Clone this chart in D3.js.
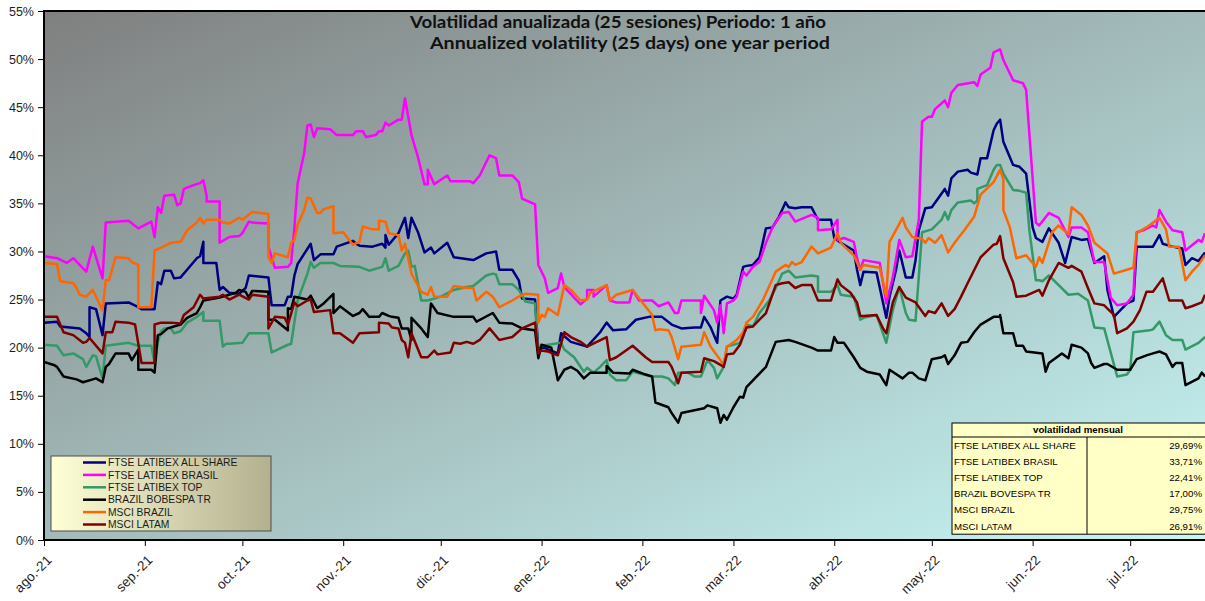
<!DOCTYPE html>
<html>
<head>
<meta charset="utf-8">
<script src="https://cdn.jsdelivr.net/npm/d3@7"></script>
<style>
  body { margin: 0; background: #fff; }
  svg { display: block; font-family: Lato, "Liberation Sans", sans-serif; }
  .axis path { display: none; }
  .axis line { stroke: #000; }
  .axis text { font-size: 12.5px; fill: #1e1e1e; }
  .x-axis text { font-size: 13.5px; }
  .legend text { font-family: "Liberation Sans", Arial, sans-serif; font-size: 10.3px; fill: #1a1a1a; }
  .vol-table text { font-family: "Liberation Sans", Arial, sans-serif; font-size: 9.7px; fill: #000; }
</style>
</head>
<body>
<svg id="chart"></svg>
<script>
// Daily data is stored as [days since 1 Aug 2021, volatility %]
const startDate = new Date(Date.UTC(2021, 7, 1));
const endDay = 357;

const allShare = [[0,22.6],[4,22.7],[5,22.2],[11,22.0],[13,21.5],[14,21.1],[14,24.2],[16,24.0],[18,21.3],[19,24.6],[26,24.7],[29,24.2],[30,24.0],[34,24.0],[35,26.8],[36,26.6],[37,28.0],[39,28.0],[40,27.2],[42,27.3],[44,28.1],[47,29.3],[48,29.5],[49,31.0],[49,28.8],[53,28.8],[54,26.0],[55,26.3],[57,25.7],[60,25.6],[62,26.2],[63,27.5],[69,27.3],[70,24.4],[74,24.4],[75,25.3],[76,25.3],[77,27.5],[78,28.7],[82,30.8],[83,29.1],[85,29.7],[89,29.7],[90,30.5],[95,31.1],[96,30.8],[97,30.6],[101,30.5],[104,30.8],[105,30.4],[105,31.7],[106,30.7],[109,31.9],[111,33.5],[112,31.4],[113,33.5],[115,32.0],[117,29.9],[119,30.4],[120,29.8],[124,30.9],[126,29.4],[132,29.1],[136,29.8],[139,30.0],[140,28.1],[144,28.1],[146,27.0],[147,25.1],[151,25.0],[152,19.7],[153,20.1],[158,19.4],[159,21.5],[162,20.6],[167,20.1],[171,21.6],[173,22.6],[175,21.8],[179,21.9],[182,22.9],[186,23.2],[190,23.2],[193,22.4],[196,22.0],[200,22.1],[202,22.1],[203,23.2],[205,22.1],[207,20.5],[208,24.9],[210,25.3],[212,25.1],[213,25.5],[215,28.4],[216,28.5],[218,28.6],[220,29.4],[222,32.4],[224,32.5],[226,33.6],[228,35.1],[229,34.6],[231,34.5],[233,34.6],[236,34.6],[238,33.3],[242,33.3],[243,31.4],[245,30.9],[249,30.1],[250,28.1],[251,26.5],[252,27.9],[256,27.8],[259,23.1],[260,25.3],[262,28.1],[263,30.1],[265,27.3],[267,27.3],[268,29.1],[269,32.2],[271,34.5],[273,34.6],[277,36.5],[278,35.8],[279,37.6],[281,38.3],[284,38.5],[285,38.2],[287,38.0],[288,39.7],[290,39.7],[292,42.6],[293,43.3],[294,43.7],[295,41.4],[298,39.0],[300,38.8],[302,38.1],[304,32.5],[305,31.4],[307,31.0],[309,32.4],[312,30.9],[314,28.8],[316,31.5],[319,31.2],[321,31.3],[323,28.8],[326,29.5],[327,26.0],[329,23.2],[333,24.6],[335,24.9],[336,30.5],[341,30.5],[343,31.7],[344,30.8],[347,30.5],[350,30.3],[351,28.6],[353,29.3],[355,29.0],[357,29.9]];

const latibexBrasil = [[0,29.5],[4,29.3],[7,28.8],[9,29.3],[13,27.9],[15,30.5],[18,27.2],[19,33.0],[26,33.2],[29,32.4],[33,33.1],[34,31.5],[35,34.6],[36,34.0],[37,35.8],[40,35.9],[41,34.8],[42,35.0],[43,36.5],[46,36.9],[48,37.1],[49,37.4],[50,35.8],[50,35.2],[54,35.2],[54,30.9],[57,31.5],[60,31.6],[61,31.9],[63,33.1],[64,33.0],[69,32.9],[69,30.5],[71,28.3],[75,28.4],[76,28.8],[77,32.5],[78,37.1],[80,40.2],[81,43.1],[82,43.2],[83,41.9],[84,42.8],[88,42.7],[90,42.1],[95,42.1],[96,42.5],[98,42.5],[99,41.9],[102,42.1],[103,42.5],[104,42.5],[105,43.4],[106,43.1],[109,43.7],[110,43.7],[111,45.9],[113,42.1],[115,39.8],[117,37.0],[118,37.0],[118,38.5],[120,37.0],[124,37.9],[125,37.3],[131,37.3],[132,37.1],[134,37.9],[137,40.0],[139,39.7],[140,37.9],[144,37.9],[146,37.2],[147,35.5],[151,34.9],[152,28.6],[154,27.2],[155,25.7],[158,26.2],[159,27.7],[160,26.3],[163,25.2],[165,24.5],[167,25.1],[167,26.0],[169,26.0],[169,25.3],[173,26.5],[174,24.9],[176,24.7],[180,24.7],[181,26.0],[183,24.9],[187,24.9],[189,24.3],[192,24.7],[194,23.6],[195,23.6],[196,24.9],[202,24.9],[202,23.6],[203,25.4],[206,23.9],[207,22.6],[208,24.4],[209,21.5],[210,24.6],[212,24.9],[213,25.3],[215,27.9],[216,27.5],[218,28.4],[220,28.9],[222,30.9],[224,32.5],[227,34.0],[229,34.1],[231,33.1],[236,33.8],[238,33.5],[238,32.2],[242,32.3],[244,33.3],[244,31.2],[246,31.4],[249,31.0],[250,29.3],[251,28.1],[252,29.1],[257,28.8],[259,24.6],[261,27.3],[263,31.2],[265,29.4],[267,29.5],[269,33.3],[270,43.5],[272,44.0],[273,44.0],[274,44.8],[277,45.7],[278,45.0],[279,46.5],[281,47.3],[286,47.6],[287,47.2],[288,48.4],[291,49.1],[292,50.7],[294,51.0],[295,49.9],[298,47.8],[301,47.5],[302,46.8],[305,33.0],[306,32.7],[309,34.0],[312,33.5],[315,31.5],[316,32.5],[319,32.5],[321,32.0],[323,28.9],[326,28.9],[328,25.2],[330,24.4],[333,24.6],[335,25.5],[336,32.0],[338,32.2],[341,32.7],[342,32.5],[343,34.3],[345,33.1],[347,32.2],[350,32.0],[351,30.1],[355,31.2],[356,31.0],[357,31.9]];

const latibexTop = [[0,20.3],[4,20.2],[6,19.2],[9,19.4],[12,18.8],[13,18.0],[15,19.2],[16,19.1],[18,16.8],[19,20.2],[26,20.5],[29,20.2],[33,20.2],[34,18.4],[35,20.6],[36,21.7],[37,22.0],[39,22.0],[40,21.5],[42,21.7],[44,22.6],[47,23.2],[49,23.7],[49,22.8],[54,22.8],[55,20.1],[56,20.4],[57,20.4],[61,20.5],[63,21.5],[69,21.5],[70,19.5],[75,20.3],[76,20.4],[78,24.9],[81,27.7],[82,28.9],[83,28.3],[85,28.8],[89,28.8],[91,28.5],[97,28.4],[100,28.0],[104,28.4],[105,29.3],[106,28.0],[109,28.5],[111,29.8],[112,30.1],[113,28.4],[114,28.5],[116,24.9],[118,24.9],[122,25.3],[126,26.0],[130,26.3],[132,26.4],[136,27.5],[138,27.7],[139,27.6],[140,26.6],[144,26.6],[146,26.0],[148,24.8],[151,24.6],[152,19.2],[153,20.2],[159,20.5],[160,19.8],[163,19.0],[166,17.5],[167,17.9],[169,17.4],[171,18.0],[173,18.7],[174,17.2],[176,16.6],[179,16.6],[181,17.5],[187,17.0],[190,17.0],[192,16.8],[194,16.1],[195,17.4],[198,17.4],[200,17.0],[202,17.0],[204,18.7],[206,17.9],[207,16.8],[209,18.0],[210,20.1],[214,20.5],[216,22.4],[218,22.2],[220,23.6],[223,24.9],[225,26.2],[227,27.7],[229,28.0],[231,27.3],[236,27.5],[238,27.4],[238,25.8],[242,25.8],[244,26.5],[245,25.5],[249,25.3],[251,22.9],[252,23.1],[256,23.4],[259,20.5],[261,23.9],[263,26.3],[265,23.6],[266,22.9],[268,22.8],[270,32.0],[273,32.3],[276,33.3],[277,34.1],[278,33.3],[279,34.3],[281,35.1],[285,35.3],[286,35.0],[287,35.3],[287,36.5],[290,36.9],[292,38.5],[293,39.0],[294,39.0],[295,38.1],[298,36.4],[300,36.3],[302,36.1],[303,32.2],[305,27.0],[306,27.0],[307,26.9],[309,27.5],[312,26.5],[315,25.5],[318,25.6],[321,24.9],[323,22.1],[326,22.0],[330,17.0],[333,17.2],[334,17.7],[335,21.6],[340,21.8],[341,21.9],[343,22.7],[345,21.3],[347,20.8],[350,20.8],[351,19.8],[355,20.5],[357,21.1]];

const bovespa = [[0,18.5],[3,18.2],[4,18.0],[6,17.0],[10,16.7],[12,16.4],[15,16.7],[16,16.8],[18,16.4],[19,18.0],[20,18.3],[22,19.4],[26,19.4],[27,18.7],[29,19.8],[29,17.7],[33,17.7],[34,17.4],[35,21.3],[36,21.4],[38,22.0],[42,22.4],[44,23.1],[47,23.6],[48,24.2],[49,24.9],[54,25.2],[55,25.3],[59,25.7],[60,26.0],[62,25.8],[63,25.2],[64,25.9],[69,25.8],[69,22.9],[71,22.9],[75,21.8],[75,24.1],[76,24.0],[77,25.3],[81,25.0],[82,25.4],[84,24.1],[86,24.6],[89,25.6],[89,23.6],[91,24.3],[95,23.3],[97,23.6],[98,24.0],[100,23.2],[103,23.2],[104,23.6],[106,23.3],[107,23.2],[109,23.1],[110,22.0],[112,22.0],[113,20.8],[113,23.1],[116,22.0],[118,21.1],[119,24.6],[121,23.6],[126,23.2],[132,23.2],[133,22.7],[138,23.6],[140,22.6],[144,22.5],[147,22.0],[151,21.8],[152,18.9],[153,20.3],[156,20.0],[158,16.6],[160,17.7],[162,18.0],[164,17.6],[166,16.8],[168,17.4],[173,17.4],[173,18.1],[175,17.4],[180,17.3],[181,17.7],[185,17.2],[187,17.0],[188,14.3],[192,13.8],[193,13.2],[195,12.2],[196,13.2],[200,13.5],[203,13.7],[204,14.0],[207,13.7],[208,12.2],[209,13.0],[210,12.5],[212,13.8],[214,14.9],[215,14.8],[216,15.9],[218,16.6],[222,18.0],[225,20.6],[229,20.8],[231,20.6],[236,20.0],[238,19.7],[242,19.7],[243,21.1],[244,20.5],[246,20.5],[249,19.0],[251,17.9],[253,17.5],[257,17.2],[259,16.1],[260,17.7],[264,16.8],[266,17.4],[267,17.4],[269,16.8],[271,16.6],[273,18.8],[276,19.0],[277,19.2],[278,18.3],[280,19.2],[282,20.5],[284,20.6],[286,21.6],[288,22.4],[292,23.2],[294,23.2],[294,23.4],[295,21.5],[298,21.5],[299,20.2],[301,20.2],[302,19.6],[307,19.4],[308,17.5],[309,18.4],[313,19.4],[315,18.9],[316,20.3],[319,20.0],[321,19.4],[322,18.4],[323,17.9],[326,18.3],[327,18.3],[330,17.7],[334,17.7],[336,18.8],[339,19.2],[341,19.4],[343,19.6],[345,19.3],[347,18.0],[348,18.4],[350,18.4],[351,16.1],[355,16.8],[356,17.4],[357,17.0]];

const msciBrazil = [[0,28.8],[4,28.7],[5,26.9],[9,26.7],[10,26.2],[11,25.5],[13,25.3],[15,26.0],[18,23.9],[19,27.0],[20,27.0],[22,29.4],[26,29.3],[27,28.9],[29,28.6],[29,24.2],[33,24.2],[34,30.1],[36,30.4],[39,30.9],[42,31.0],[44,32.2],[47,33.0],[48,33.5],[49,32.9],[50,33.3],[54,33.3],[55,33.0],[57,32.9],[60,33.5],[61,33.3],[64,34.1],[69,33.9],[69,29.4],[70,28.8],[71,29.8],[75,29.4],[76,30.9],[77,31.2],[78,32.8],[80,34.3],[81,35.6],[82,35.5],[84,34.0],[85,34.0],[86,34.4],[89,34.7],[89,31.9],[92,32.0],[95,30.7],[97,31.0],[98,32.6],[101,32.3],[103,32.3],[103,33.2],[105,33.1],[106,31.9],[109,31.7],[110,30.1],[111,30.8],[113,27.7],[116,25.8],[118,25.5],[119,26.3],[120,25.3],[124,25.3],[126,26.4],[130,26.2],[132,26.2],[133,24.9],[136,25.8],[138,25.3],[140,24.2],[144,24.9],[146,25.3],[148,25.6],[152,25.5],[152,22.6],[153,23.4],[154,23.2],[155,24.1],[158,23.4],[160,26.5],[162,26.0],[165,24.9],[167,25.0],[168,25.7],[173,26.5],[174,24.9],[176,25.5],[181,26.0],[187,23.4],[188,21.8],[189,21.9],[192,21.8],[193,21.1],[195,18.8],[196,20.1],[202,20.3],[203,21.6],[205,20.1],[208,18.7],[209,18.2],[210,20.1],[213,20.8],[215,21.6],[216,22.6],[218,23.2],[221,24.9],[225,27.9],[228,28.6],[229,28.4],[230,28.9],[231,28.6],[233,28.9],[236,30.5],[238,29.8],[242,30.4],[244,31.9],[245,30.9],[249,29.6],[251,28.1],[252,28.6],[257,28.3],[259,25.3],[260,31.0],[264,33.5],[265,32.5],[267,31.5],[270,31.3],[271,30.9],[272,31.4],[274,30.9],[276,31.7],[278,29.9],[280,30.9],[283,32.2],[286,33.6],[288,35.9],[292,37.2],[294,38.5],[295,37.5],[295,34.3],[297,32.5],[299,29.3],[302,29.6],[305,28.4],[306,29.4],[307,28.8],[310,32.0],[312,32.7],[315,31.8],[316,34.6],[319,33.8],[321,32.7],[323,30.9],[327,29.8],[329,27.7],[333,28.1],[335,28.3],[336,31.9],[339,32.5],[343,33.5],[345,32.3],[346,30.5],[349,30.5],[351,27.0],[353,27.9],[355,28.6],[357,29.6]];

const msciLatam = [[0,23.2],[4,23.2],[6,21.6],[9,21.3],[12,20.5],[13,20.6],[14,21.0],[18,19.4],[19,21.6],[21,21.6],[22,22.7],[26,22.6],[28,22.4],[30,18.4],[34,18.4],[34,22.4],[36,22.6],[39,22.6],[42,22.5],[43,23.4],[46,24.2],[48,25.5],[49,25.1],[54,25.3],[55,25.5],[57,25.0],[60,25.5],[63,25.0],[64,25.5],[69,25.3],[69,22.0],[71,23.2],[74,23.1],[75,22.4],[77,24.7],[78,24.3],[81,24.9],[82,25.0],[83,23.7],[88,23.9],[89,21.5],[91,21.5],[95,20.5],[97,21.5],[103,21.6],[103,22.6],[106,22.5],[107,22.1],[109,22.0],[110,20.8],[111,20.5],[112,19.0],[113,21.5],[116,19.0],[118,19.0],[120,19.7],[121,19.3],[125,19.5],[126,20.5],[128,20.4],[130,20.6],[132,20.4],[134,20.8],[137,22.0],[140,20.8],[144,21.1],[147,22.0],[151,22.6],[152,19.4],[153,19.7],[155,19.6],[158,19.2],[160,21.6],[162,21.1],[165,20.6],[167,20.1],[173,21.1],[174,18.7],[176,19.0],[181,20.2],[185,19.0],[187,18.5],[192,18.5],[193,18.0],[195,16.3],[196,17.4],[202,17.5],[203,18.9],[206,18.6],[208,18.2],[209,18.0],[210,19.3],[212,19.4],[214,20.3],[216,22.1],[218,22.2],[222,23.6],[225,26.5],[227,26.7],[229,26.8],[231,26.2],[233,26.5],[236,26.5],[238,24.9],[242,24.9],[244,27.1],[245,26.5],[248,25.7],[250,24.7],[251,23.3],[252,23.3],[256,23.4],[258,22.0],[259,21.5],[261,24.7],[263,26.3],[265,25.2],[268,24.7],[271,23.3],[272,23.8],[274,23.6],[276,24.6],[278,23.3],[280,24.0],[282,25.3],[284,26.7],[288,29.4],[292,30.7],[293,30.8],[294,31.6],[295,29.3],[298,26.8],[299,25.3],[302,25.4],[306,26.0],[307,25.4],[309,27.0],[312,28.8],[315,28.3],[316,28.5],[319,27.9],[321,26.2],[323,24.6],[326,24.4],[329,23.4],[330,21.5],[333,22.0],[335,22.7],[337,23.9],[339,25.8],[341,25.8],[344,27.2],[346,24.9],[350,24.9],[351,24.1],[353,24.3],[356,24.7],[357,25.5]];

const seriesNames = ['FTSE LATIBEX ALL SHARE', 'FTSE LATIBEX BRASIL', 'FTSE LATIBEX TOP', 'BRAZIL BOBESPA TR', 'MSCI BRAZIL', 'MSCI LATAM'];
const seriesData = [allShare, latibexBrasil, latibexTop, bovespa, msciBrazil, msciLatam];
const seriesColors = ['#000080', '#ff00ff', '#339966', '#000000', '#ff6600', '#800000'];

// table "volatilidad mensual"
const tableNames = ['FTSE LATIBEX ALL SHARE', 'FTSE LATIBEX BRASIL', 'FTSE LATIBEX TOP', 'BRAZIL BOVESPA TR', 'MSCI BRAZIL', 'MSCI LATAM'];
const monthlyVol = [29.69, 33.71, 22.41, 17.00, 29.75, 26.91];

const monthLabels = ['ago.-21', 'sep.-21', 'oct.-21', 'nov.-21', 'dic.-21', 'ene.-22', 'feb.-22', 'mar.-22', 'abr.-22', 'may.-22', 'jun.-22', 'jul.-22'];
const yMax = 0.55;

const config = {
  width: 1205,
  height: 601,
  margin: {top: 11, right: 0, bottom: 61, left: 44}
};

const innerW = config.width - config.margin.left - config.margin.right;
const innerH = config.height - config.margin.top - config.margin.bottom;

const svg = d3.select('#chart')
    .attr('width', config.width)
    .attr('height', config.height);

const defs = svg.append('defs');

// plot area background: grey top-left to pale cyan bottom-right
const bgGrad = defs.append('linearGradient')
    .attr('id', 'plotBg')
    .attr('x1', 0).attr('y1', 0).attr('x2', 1).attr('y2', 1);
bgGrad.append('stop').attr('offset', '0%').attr('stop-color', '#7f7f7f');
bgGrad.append('stop').attr('offset', '100%').attr('stop-color', '#c6f7f6');

const legGrad = defs.append('linearGradient')
    .attr('id', 'legendBg')
    .attr('x1', 0).attr('y1', 0).attr('x2', 1).attr('y2', 0);
legGrad.append('stop').attr('offset', '0%').attr('stop-color', '#ffffd6');
legGrad.append('stop').attr('offset', '100%').attr('stop-color', '#b3b08f');

defs.append('clipPath').attr('id', 'plotClip')
  .append('rect')
    .attr('width', innerW)
    .attr('height', innerH);

const chart = svg.append('g')
    .attr('transform', `translate(${config.margin.left},${config.margin.top})`);

chart.append('rect')
    .attr('width', innerW + 4)
    .attr('height', innerH)
    .attr('fill', 'url(#plotBg)');

// Scales
const xScale = d3.scaleUtc()
    .domain([startDate, d3.utcDay.offset(startDate, endDay)])
    .range([0, innerW]);

const yScale = d3.scaleLinear()
    .domain([0, yMax])
    .range([innerH, 0]);

const monthTicks = d3.utcMonth.range(startDate, d3.utcDay.offset(startDate, endDay));

const xAxis = d3.axisBottom(xScale)
    .tickValues(monthTicks)
    .tickSize(6)
    .tickFormat((d, i) => monthLabels[i]);

const yAxis = d3.axisLeft(yScale)
    .tickValues(d3.range(0, yMax + 0.001, 0.05))
    .tickSize(6)
    .tickPadding(4)
    .tickFormat(d3.format('.0%'));

chart.append('g')
    .attr('class', 'axis y-axis')
    .call(yAxis);

const xAxisG = chart.append('g')
    .attr('class', 'axis x-axis')
    .attr('transform', `translate(0,${innerH})`)
    .call(xAxis);

// rotated month labels, end of text just under the tick
xAxisG.selectAll('text')
    .attr('text-anchor', 'end')
    .attr('dy', null)
    .attr('y', 0)
    .attr('transform', 'translate(8,21) rotate(-45)');

// Lines
const line = d3.line()
    .x(d => xScale(d3.utcDay.offset(startDate, d[0])))
    .y(d => yScale(d[1] / 100));

chart.append('g')
    .attr('clip-path', 'url(#plotClip)')
  .selectAll('.series')
    .data(seriesData)
  .join('path')
    .attr('class', 'series')
    .attr('fill', 'none')
    .attr('stroke', (d, i) => seriesColors[i])
    .attr('stroke-width', 2.5)
    .attr('stroke-linejoin', 'round')
    .attr('d', line);

// Plot frame
chart.append('rect')
    .attr('width', innerW + 4)
    .attr('height', innerH)
    .attr('fill', 'none')
    .attr('stroke', '#000')
    .attr('stroke-width', 2);

// Title
const titles = [
  {text: 'Volatilidad anualizada (25 sesiones) Periodo: 1 año', x: 618, y: 27.5, len: 416},
  {text: 'Annualized volatility (25 days) one year period', x: 630, y: 48.5, len: 400}
];
svg.selectAll('.title')
    .data(titles)
  .join('text')
    .attr('class', 'title')
    .attr('x', d => d.x)
    .attr('y', d => d.y)
    .attr('text-anchor', 'middle')
    .attr('textLength', d => d.len)
    .attr('lengthAdjust', 'spacingAndGlyphs')
    .style('font-size', '17px')
    .style('font-weight', 'bold')
    .style('fill', '#111')
    .text(d => d.text);

// Legend
const legend = svg.append('g')
    .attr('class', 'legend')
    .attr('transform', 'translate(51,456)');

legend.append('rect')
    .attr('width', 220)
    .attr('height', 75)
    .attr('fill', 'url(#legendBg)')
    .attr('stroke', '#4d4d4d')
    .attr('stroke-width', 1);

const legendRows = legend.selectAll('.legend-row')
    .data(seriesNames)
  .join('g')
    .attr('class', 'legend-row')
    .attr('transform', (d, i) => `translate(0,${6.5 + i * 12.4})`);

legendRows.append('line')
    .attr('x1', 32).attr('x2', 55)
    .attr('stroke', (d, i) => seriesColors[i])
    .attr('stroke-width', 2.5);

legendRows.append('text')
    .attr('x', 57)
    .attr('dy', '0.36em')
    .text(d => d);

// Monthly volatility table
const table = svg.append('g')
    .attr('class', 'vol-table')
    .attr('transform', 'translate(952,423)');

const tableW = 256, headH = 14, rowH = 16.2, colX = 135;

table.append('rect')
    .attr('width', tableW)
    .attr('height', headH + rowH * tableNames.length)
    .attr('fill', '#ffffc6')
    .attr('stroke', '#000')
    .attr('stroke-width', 1);

table.append('line')
    .attr('x1', 0).attr('x2', tableW)
    .attr('y1', headH).attr('y2', headH)
    .attr('stroke', '#000');

table.append('line')
    .attr('x1', colX).attr('x2', colX)
    .attr('y1', headH).attr('y2', headH + rowH * tableNames.length)
    .attr('stroke', '#000');

table.append('text')
    .attr('x', 126)
    .attr('y', headH / 2)
    .attr('dy', '0.36em')
    .attr('text-anchor', 'middle')
    .style('font-weight', 'bold')
    .text('volatilidad mensual');

const fmtVol = v => v.toFixed(2).replace('.', ',') + '%';

const tRows = table.selectAll('.trow')
    .data(tableNames)
  .join('g')
    .attr('class', 'trow')
    .attr('transform', (d, i) => `translate(0,${headH + rowH * (i + 0.5)})`);

tRows.append('text')
    .attr('x', 2)
    .attr('dy', '0.36em')
    .text(d => d);

tRows.append('text')
    .attr('x', 250)
    .attr('dy', '0.36em')
    .attr('text-anchor', 'end')
    .text((d, i) => fmtVol(monthlyVol[i]));
</script>
</body>
</html>
